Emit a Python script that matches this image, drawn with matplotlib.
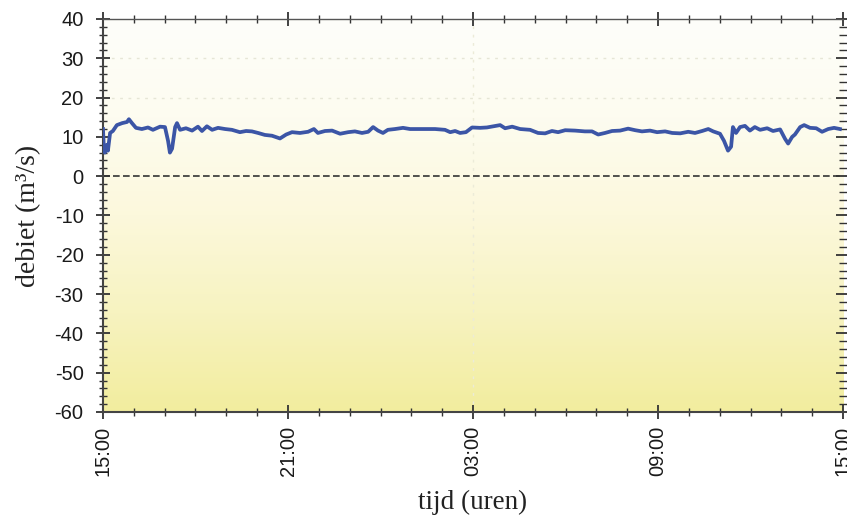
"""
Debiet over 24 uur (15:00 - 15:00), nagebouwd met matplotlib.
"""

import numpy as np
import matplotlib
matplotlib.use("Agg")
from matplotlib import pyplot as plt
from matplotlib.colors import LinearSegmentedColormap
from matplotlib.ticker import MultipleLocator

plt.rcParams["axes.unicode_minus"] = False

# uren na 15:00
uren = [0.00, 0.03, 0.06, 0.13, 0.16, 0.23, 0.32, 0.45, 0.62, 0.78, 0.84, 0.94,
        1.07, 1.26, 1.46, 1.62, 1.85, 2.01, 2.11, 2.17, 2.24, 2.34, 2.40, 2.50,
        2.69, 2.89, 3.08, 3.21, 3.37, 3.54, 3.73, 3.96, 4.18, 4.44, 4.64, 4.83,
        5.03, 5.25, 5.48, 5.74, 5.94, 6.13, 6.39, 6.65, 6.84, 6.97, 7.20, 7.43,
        7.69, 7.95, 8.17, 8.40, 8.60, 8.76, 8.92, 9.08, 9.24, 9.47, 9.73, 9.96,
        10.28, 10.77, 11.09, 11.26, 11.42, 11.58, 11.77, 11.97, 12.23, 12.45,
        12.88, 13.04, 13.27, 13.53, 13.85, 14.11, 14.34, 14.56, 14.76, 14.99,
        15.31, 15.63, 15.86, 16.06, 16.28, 16.51, 16.77, 17.03, 17.26, 17.48,
        17.74, 17.97, 18.23, 18.46, 18.72, 18.98, 19.20, 19.43, 19.63, 19.79,
        20.01, 20.14, 20.27, 20.37, 20.43, 20.53, 20.66, 20.82, 20.98, 21.14,
        21.31, 21.54, 21.73, 21.96, 22.12, 22.22, 22.35, 22.44, 22.61, 22.74,
        22.93, 23.13, 23.32, 23.52, 23.71, 23.90]

# debiet in m3/s
debiet = [12.0, 7.0, 6.0, 8.0, 6.5, 11.0, 11.5, 13.0, 13.5, 13.8, 14.5, 13.5,
          12.3, 12.0, 12.4, 11.8, 12.6, 12.5, 9.0, 6.0, 7.0, 12.5, 13.5, 11.8,
          12.2, 11.6, 12.6, 11.5, 12.7, 11.8, 12.3, 12.0, 11.8, 11.2, 11.5, 11.4,
          11.0, 10.5, 10.3, 9.6, 10.6, 11.2, 11.0, 11.3, 12.0, 11.0, 11.5, 11.6,
          10.8, 11.2, 11.4, 11.0, 11.3, 12.5, 11.6, 11.0, 11.8, 12.0, 12.3, 12.0,
          12.0, 12.0, 11.8, 11.2, 11.5, 11.0, 11.2, 12.4, 12.3, 12.4,
          13.0, 12.2, 12.6, 12.0, 11.8, 11.0, 10.9, 11.5, 11.2, 11.7,
          11.6, 11.4, 11.4, 10.6, 11.0, 11.5, 11.6, 12.1, 11.7, 11.4,
          11.6, 11.2, 11.4, 11.0, 10.9, 11.3, 11.0, 11.5, 12.0, 11.4,
          10.8, 9.0, 6.5, 7.5, 12.5, 11.0, 12.5, 12.8, 11.6, 12.5,
          11.8, 12.2, 11.5, 11.9, 9.5, 8.3, 10.0, 10.6, 12.5, 13.0,
          12.3, 12.2, 11.3, 12.0, 12.3, 12.0]

tick_posities = [0, 6, 12, 18, 24]
tick_labels = ["15:00", "21:00", "03:00", "09:00", "15:00"]

fig = plt.figure(figsize=(8.47, 5.19), dpi=100)
ax = fig.add_axes([0.1216, 0.2062, 0.8737, 0.7572])

# achtergrond: van bijna wit boven naar geel onder
cmap = LinearSegmentedColormap.from_list(
    "geel", ["#f2ed9e", "#f7f3c0", "#fcf8dc", "#fdfcf0", "#fefefa"])
grad = np.linspace(0, 1, 256).reshape(-1, 1)
ax.imshow(grad, cmap=cmap, aspect="auto", origin="lower",
          extent=[0, 24, -60, 40], zorder=0)

for y in [30, 20]:
    ax.axhline(y, color="#e6e6d6", lw=1.0, ls=(0, (2, 4)), zorder=1)
ax.axvline(12, color="#ecebd8", lw=1.0, ls=(0, (2, 4)), zorder=1)

ax.axhline(0, color="#333333", lw=1.2, ls=(0, (4, 2)), zorder=2)
ax.plot(uren, debiet, color="#3b55a6", lw=2.7, zorder=3)

ax.set_xlim(0, 24)
ax.set_ylim(-60, 40)

ax.set_xticks(tick_posities)
ax.set_xticklabels(tick_labels, rotation=90, family="Liberation Sans",
                   fontsize=14.5, color="#1a1a1a")
ax.xaxis.set_minor_locator(MultipleLocator(1))
ax.yaxis.set_major_locator(MultipleLocator(10))
ax.yaxis.set_minor_locator(MultipleLocator(2))
for lab in ax.get_yticklabels():
    lab.set_family("Liberation Sans")
ax.tick_params(axis="y", which="major", labelsize=14.5, labelcolor="#1a1a1a")

ax.tick_params(which="major", direction="inout", length=10, width=1.3,
               color="#333333", top=True, right=True)
ax.tick_params(which="minor", direction="inout", length=6, width=1.0,
               color="#333333", top=True, right=True)
ax.tick_params(axis="x", which="major", pad=5)
ax.tick_params(axis="y", which="major", pad=9)

ax.spines["left"].set_color("#444444")
ax.spines["left"].set_linewidth(1.5)
ax.spines["bottom"].set_color("#444444")
ax.spines["bottom"].set_linewidth(1.5)
ax.spines["top"].set_color("#555555")
ax.spines["top"].set_linewidth(1.0)
ax.spines["right"].set_visible(False)

ax.set_xlabel("tijd (uren)", family="Liberation Serif", fontsize=19.5,
              color="#222222", labelpad=10)
ax.set_ylabel("debiet (m³/s)", family="Liberation Serif", fontsize=20,
              color="#222222", labelpad=10)

plt.savefig("out.png", dpi=100)
